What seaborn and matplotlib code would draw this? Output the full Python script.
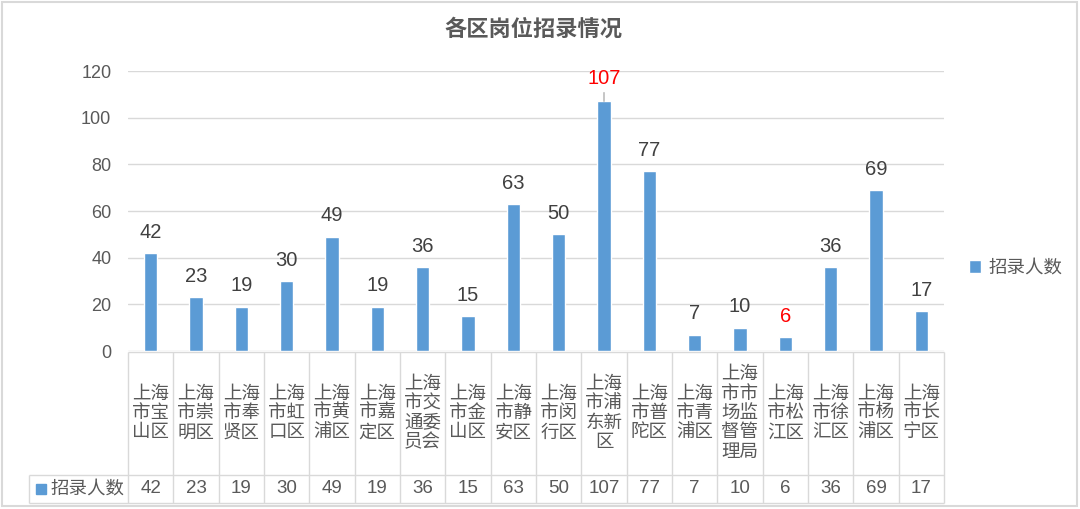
import matplotlib
matplotlib.use("Agg")
import matplotlib.pyplot as plt
import matplotlib.transforms as mtransforms
from matplotlib.patches import Rectangle
import pandas as pd
import seaborn as sns

# ---------------- data ----------------
chart_title = "各区岗位招录情况"
series_name = "招录人数"
districts = [
    "上海市宝山区", "上海市崇明区", "上海市奉贤区", "上海市虹口区", "上海市黄浦区",
    "上海市嘉定区", "上海市交通委员会", "上海市金山区", "上海市静安区", "上海市闵行区",
    "上海市浦东新区", "上海市普陀区", "上海市青浦区", "上海市市场监督管理局",
    "上海市松江区", "上海市徐汇区", "上海市杨浦区", "上海市长宁区",
]
counts = [42, 23, 19, 30, 49, 19, 36, 15, 63, 50, 107, 77, 7, 10, 6, 36, 69, 17]
y_ticks = [0, 20, 40, 60, 80, 100, 120]

# ---------------- style ----------------
sns.set_style("white")
plt.rcParams["font.family"] = ["Liberation Sans", "Noto Sans CJK SC", "DejaVu Sans"]
CJK = ["Noto Sans CJK SC", "DejaVu Sans"]
BAR = "#5b9bd5"
GRID = "#d9d9d9"
TXT = "#595959"
DARK = "#404040"

W, H = 1080, 509
fig = plt.figure(figsize=(W / 100, H / 100), dpi=100)
ax_l, ax_r, ax_t, ax_b = 128, 944, 71, 351
ax = fig.add_axes([ax_l / W, 1 - ax_b / H, (ax_r - ax_l) / W, (ax_b - ax_t) / H])

df = pd.DataFrame({"district": districts, "count": counts})
sns.barplot(data=df, x="district", y="count", order=districts, color=BAR,
            saturation=1, width=0.3, ax=ax, label=series_name, errorbar=None)

n = len(districts)
ax.set_xlim(-0.5, n - 0.5)
ax.set_ylim(y_ticks[0], y_ticks[-1])
ax.set_yticks(y_ticks)
ax.yaxis.grid(True, color=GRID, lw=1)
ax.set_axisbelow(True)
for s in ax.spines.values():
    s.set_visible(False)
ax.tick_params(axis="y", length=0, pad=12, labelsize=13, labelcolor=TXT)
ax.set_xticks([])
ax.set_xlabel("")
ax.set_ylabel("")

# ---------------- data labels ----------------
vmax, vmin = max(counts), min(counts)
for i, v in enumerate(counts):
    col = "red" if v in (vmax, vmin) else DARK
    off = 16.5 if v == vmax else 15
    ax.annotate(str(v), xy=(i, v), xytext=(0, off), textcoords="offset points",
                ha="center", va="center", fontsize=14.5, color=col)
    if v == vmax:
        ax.annotate("", xy=(i, v), xytext=(0, 6.3), textcoords="offset points",
                    arrowprops=dict(arrowstyle="-", color="#a6a6a6", lw=0.9,
                                    shrinkA=0, shrinkB=0))

# ---------------- data table ----------------
pw, ph = ax_r - ax_l, ax_b - ax_t
def ay(py):
    return (ax_b - py) / ph
def axx(px):
    return (px - ax_l) / pw

trans = mtransforms.blended_transform_factory(ax.transData, ax.transAxes)
lk = dict(color=GRID, lw=1, clip_on=False, solid_capstyle="butt")
y_top, y_mid, y_bot = ay(351.5), ay(475), ay(503)
x_left = axx(29.3)

for k in range(n + 1):
    ax.plot([k - 0.5, k - 0.5], [y_top, y_bot], transform=trans, **lk)
ax.plot([0, 1], [y_top, y_top], transform=ax.transAxes, **lk)
ax.plot([x_left, 1], [y_mid, y_mid], transform=ax.transAxes, **lk)
ax.plot([x_left, 1], [y_bot, y_bot], transform=ax.transAxes, **lk)
ax.plot([x_left, x_left], [y_mid, y_bot], transform=ax.transAxes, **lk)

y_cat, y_val = ay(413), ay(488.5)
for i, (name, v) in enumerate(zip(districts, counts)):
    wrapped = "\n".join(name[j:j + 2] for j in range(0, len(name), 2))
    ax.text(i, y_cat, wrapped, transform=trans, ha="center", va="center",
            multialignment="center", fontsize=13.3, color=TXT, family=CJK,
            linespacing=1.1, clip_on=False)
    ax.text(i, y_val, str(v), transform=trans, ha="center", va="center",
            fontsize=13.5, color=TXT, clip_on=False)

# legend key inside the table
ax.add_patch(Rectangle((axx(36), y_val - 5 / ph), 10 / pw, 10 / ph,
                       transform=ax.transAxes, color=BAR, clip_on=False))
ax.text(axx(50), y_val, series_name, transform=ax.transAxes, ha="left",
        va="center", fontsize=13.3, color=TXT, family=CJK, clip_on=False)

# ---------------- legend ----------------
leg = ax.legend(loc="center left", bbox_to_anchor=(969 / W, 1 - 268 / H),
                bbox_transform=fig.transFigure, frameon=False,
                handlelength=0.65, handleheight=0.65, handletextpad=0.4,
                borderpad=0, borderaxespad=0,
                prop={"family": CJK, "size": 13.3}, labelcolor=TXT)

# ---------------- title & border ----------------
fig.text(533 / W, 1 - 29 / H, chart_title, ha="center", va="center",
         fontsize=16, fontweight="bold", color=TXT, family=CJK)
fig.patches.append(Rectangle((1.5 / W, 3 / H), 1075.5 / W, 504 / H,
                             transform=fig.transFigure, fill=False,
                             ec="#d9d9d9", lw=1.5))

fig.savefig("out.png", dpi=100)
